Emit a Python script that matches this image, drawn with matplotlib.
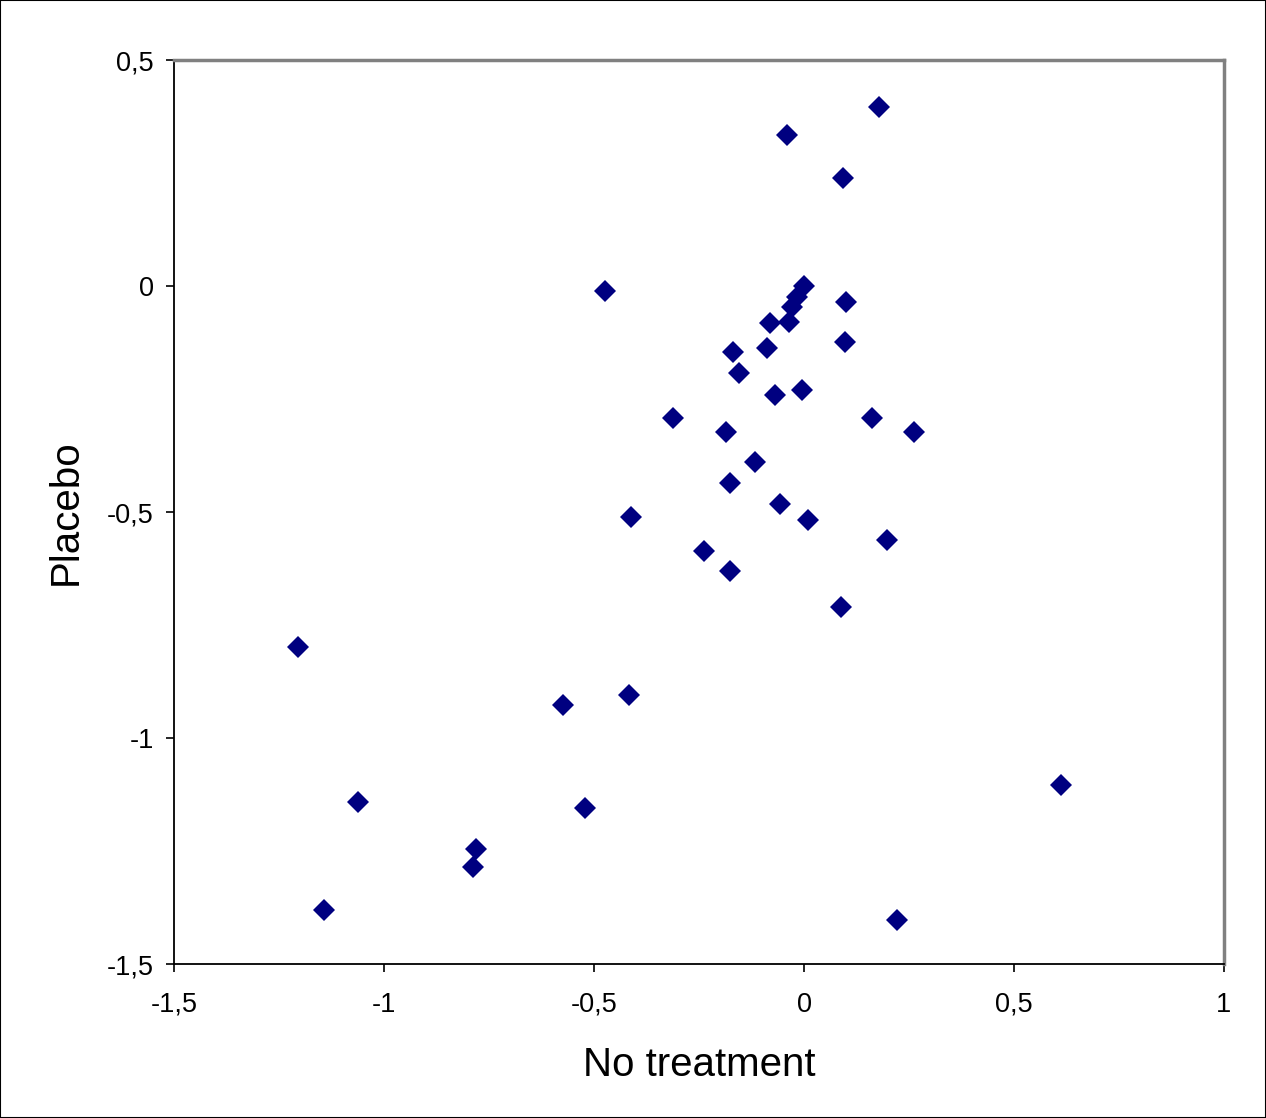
import matplotlib
matplotlib.use("Agg")
import matplotlib.pyplot as plt

x_vals = [0.179, -0.040, 0.093, -0.474, 0.000, -0.017, -0.029, 0.100, -0.081, -0.036,
          0.098, -0.088, -0.169, -0.155, -0.005, -0.069, -0.312, 0.162, 0.262, -0.186,
          -0.117, -0.176, -0.057, -0.412, 0.010, -0.238, 0.198, -0.176, 0.088, -1.205,
          -0.417, -0.574, 0.612, -1.062, -0.521, -0.781, -0.788, -1.143, 0.221]
y_vals = [0.396, 0.334, 0.239, -0.011, 0.000, -0.024, -0.046, -0.035, -0.082, -0.080,
          -0.124, -0.137, -0.146, -0.192, -0.230, -0.241, -0.292, -0.292, -0.323, -0.323,
          -0.389, -0.436, -0.482, -0.511, -0.518, -0.586, -0.562, -0.631, -0.710, -0.799,
          -0.905, -0.927, -1.104, -1.142, -1.155, -1.246, -1.285, -1.381, -1.403]

x_ticks = [-1.5, -1, -0.5, 0, 0.5, 1]
x_tick_labels = ["-1,5", "-1", "-0,5", "0", "0,5", "1"]
y_ticks = [-1.5, -1, -0.5, 0, 0.5]
y_tick_labels = ["-1,5", "-1", "-0,5", "0", "0,5"]

plt.rcParams['font.family'] = ['Liberation Sans', 'DejaVu Sans']

fig = plt.figure(figsize=(12.66, 11.18), dpi=100)
ax = fig.add_axes([174/1266, 1 - 964/1118, (1224-174)/1266, (964-60)/1118])

ax.plot(x_vals, y_vals, linestyle='none', marker='D', color='#000080', markersize=11, markeredgewidth=0)

ax.set_xlim(-1.5, 1)
ax.set_ylim(-1.5, 0.5)
ax.set_xticks(x_ticks)
ax.set_xticklabels(x_tick_labels)
ax.set_yticks(y_ticks)
ax.set_yticklabels(y_tick_labels)
ax.tick_params(direction='out', length=6, width=1.2, labelsize=19.5, color='black')
ax.tick_params(axis='x', pad=14)
ax.tick_params(axis='y', pad=8.5)

for s in ['top', 'right']:
    ax.spines[s].set_color('#808080')
    ax.spines[s].set_linewidth(2.5)
for s in ['left', 'bottom']:
    ax.spines[s].set_color('black')
    ax.spines[s].set_linewidth(1.3)

ax.set_xlabel('No treatment', fontsize=29, labelpad=20)
ax.set_ylabel('Placebo', fontsize=29, labelpad=16)

fig.patches.append(matplotlib.patches.Rectangle((0.0, 0.0), 1, 1, transform=fig.transFigure,
                                                fill=False, edgecolor='black', linewidth=1.5))

fig.savefig('out.png', dpi=100)
